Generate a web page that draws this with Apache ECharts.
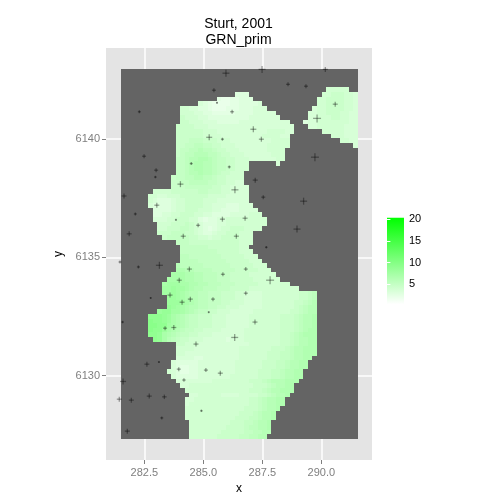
<!DOCTYPE html>
<html><head><meta charset="utf-8">
<style>html,body{margin:0;padding:0;background:#fff}#c{width:500px;height:500px}</style>
<script src="https://cdn.jsdelivr.net/npm/echarts@6/dist/echarts.min.js"></script>
</head><body><div id="c"></div>
<script>
const titleText = 'Sturt, 2001\nGRN_prim';
const xMajor = [282.5, 285, 287.5, 290];
const xMinor = [281.25, 283.75, 286.25, 288.75, 291.25];
const yMajor = [6130, 6135, 6140];
const yMinor = [6127.5, 6132.5, 6137.5, 6142.5];
const legendTicks = [5, 10, 15, 20];
const levelChars = 'abcdefghijklmnopqrs'; // a=1, b=1.5 ... s=10
// [row, firstCol, endCol, levels]
const mainRuns = [
[5,25,28,'eee'],[6,21,29,'dccddeee'],[7,17,31,'fedccccddeeeef'],[8,13,32,'ggffeedcccdddeeefff'],
[9,13,34,'gggffeedddddeeeefffff'],[10,13,35,'hgggffeeeeeeeeefffffff'],[11,13,37,'hhgggfffeeeeefffffffffff'],
[12,12,38,'hhhhgggfffffffffffffffffff'],[13,12,38,'hhhhhhgggfffffffffffggggfff'],[14,12,37,'hhhhhhggggfffffffffggggff'],
[15,12,37,'hhhiiihhhgggfffffffffgggggg'],[16,12,37,'hhiijjiihhgggfffffffggggg'],[17,12,36,'hiijjkjjihhgggffffffgggg'],
[18,12,36,'hijjkkkjjihhgggffffffggg'],[19,12,36,'iijkkllkjiihhgggffffffgg'],[20,12,28,'iijkllkkjiihhggg'],[20,34,35,'f'],
[21,12,28,'iijkllkkjiihhggg'],[22,12,27,'iijkklkkjihhggg'],[23,11,27,'hiijjkkjjihhgggg'],[24,11,27,'hhiijjjjiihhggff'],
[25,11,28,'hhhiiiiiihhggffff'],[26,7,28,'gggghhhhhhiihhhggffff'],[27,6,28,'ggffggghhhhhhggggfffff'],[28,6,28,'gfeeefgghhhhgggffffffff'],
[29,6,29,'feeeefgghhhhggfffeeefff'],[30,7,30,'eeeefgghhhgggffeeeefffff'],[31,7,31,'eeffgghhhggffeeeeffffggg'],
[32,7,32,'fffgghhhggedeeffggggggggg'],[33,8,32,'ggghhhihgfeeeffggggggggg'],[34,8,31,'gghhhiihgfedefgghhhgggg'],
[35,8,29,'hhhiiihhgfeefgghhhggg'],[36,9,29,'hiiiiihhggfgghhhhggg'],[37,12,29,'iiihhhhhhhhhhhggg'],[38,13,28,'iiiiiihhhhhhhgg'],
[39,13,29,'iiiiiiiihhhhhggg'],[40,13,30,'jjiiiiiiihhhhhggg'],[41,13,31,'jjjjiiiiiihhhhhggg'],[42,12,32,'kjjjjjiiiiiihhhhhggg'],
[43,12,33,'llkkjjjjiiiiihhhhhggg'],[44,11,34,'mmmllkkjjjiiihhhhgggggg'],[45,10,35,'mmmmllkkjjjiiihhhhhgggggg'],
[46,9,37,'mnnnmmllkkjjjiiihhhhhggggggg'],[47,9,39,'nnonnmlkkjjjiiihhhhgggggggggg'],
[48,9,43,'nnonmlkkjjiiihhhggffffgggggggghhij'],[49,10,43,'oonmlkkjjiiihhhggffffgggggggghhij'],
[50,10,43,'ooonmlkjjiiihhgggffffggggggghhijk'],[51,10,43,'ponmlkkjjiihhgggfffffggggggghijkk'],
[52,8,43,'oppnnmlkjiihhgggfffffgggggggghhijkk'],[53,6,43,'qqqpomlkjiihhhgggfffffggggggghhhijkkl'],
[54,6,43,'rqqpomlkjiihhhgggfffffggggggghhhijkkl'],[55,6,43,'rrqqnmlkjiihhhgggfffffggggggghhhijkkl'],
[56,6,43,'rqqomlkjiihhggggfffffgggggggghhhijkll'],[57,6,43,'qqpmlkjiihhgggfffffffgggggggghhijkll'],
[58,7,43,'qpmkjihhgggfffffefffgggggggghhijkkl'],[59,12,43,'hhgggfffffffffffggggggghhijkkll'],[60,12,43,'ggggffffffffffggggggghhhijkkll'],
[61,12,43,'ggffffffffffffgggggghhhiijkkll'],[62,12,42,'ffffeeffffffffgggggghhhiijkkll'],[63,11,41,'feeeeeffffffffgggggghhhiijkkll'],
[64,11,41,'feddeeffffffffgggggghhhiijkkll'],[65,10,40,'gfeddeeffffffffggggghhhiijkkll'],[66,11,40,'feeeeefffffffgggggghhhiijkkll'],
[67,12,39,'ffffffffgggggggghhhijkkkll'],[68,13,38,'ffgggggggggggggghhhijkkll'],[69,14,38,'gggggggggggggghhhijkkll'],
[70,15,37,'ffgggggffffgggghhijkkl'],[71,14,36,'ffgggggggggggghhijkkll'],[72,14,36,'fggggggggggggghhijkkll'],
[73,14,35,'ggggggggggggghhhijkkl'],[74,14,34,'gggggggggggghhhijkkl'],[75,14,34,'ggggggggggghhhiijkkl'],
[76,15,33,'ggggggggghhhiijkkl'],[77,15,33,'gggggggghhhhijjkkl'],[78,15,33,'ggggggghhhhhiijjkk'],[79,15,32,'gggggghhhhhiijjkk']
];
const islandRuns = [
[4,45,50,'ggggg'],[5,44,52,'gghhhggf'],[6,43,52,'gghhhhggf'],[7,43,52,'gghhhhggf'],[8,42,52,'fgghhhhggf'],
[9,41,52,'ffgghhhggff'],[10,41,52,'ffggghhggff'],[11,40,52,'effgggggggff'],[12,41,52,'ffggggggfff'],
[13,44,52,'gggggfff'],[14,46,52,'gggfff'],[15,48,52,'ggff'],[16,51,52,'f']
];
const pointX = [285.96,285.45,285.58,286.22,282.29,285.25,285.81,282.49,284.49,286.10,283.00,282.97,284.03,286.34,281.64,
287.49,290.17,288.59,289.35,290.59,289.82,287.12,287.46,289.73,287.20,
283.03,282.12,283.84,284.78,285.81,281.86,284.15,286.40,281.47,282.25,283.14,284.41,285.83,283.98,283.59,284.45,285.41,284.10,282.77,285.23,281.58,283.38,283.75,
287.54,289.25,286.77,288.97,287.67,286.80,287.83,286.80,287.19,
284.69,286.33,282.61,283.12,283.96,285.11,285.72,284.18,281.60,281.44,281.95,282.71,283.35,284.92,283.24,281.78];
const pointY = [6142.78,6142.06,6141.53,6141.15,6141.15,6140.07,6139.99,6139.27,6138.96,6138.82,6138.68,6138.39,6138.09,6137.85,6137.59,
6142.94,6142.94,6142.31,6142.23,6141.47,6140.87,6140.41,6139.99,6139.23,6138.26,
6137.20,6136.83,6136.58,6136.35,6136.61,6135.99,6135.89,6135.89,6134.80,6134.59,6134.66,6134.50,6134.28,6134.03,6133.40,6133.23,6133.23,6133.10,6133.28,6132.68,6132.26,6132.00,6132.03,
6137.54,6137.37,6136.65,6136.19,6135.42,6134.50,6134.03,6133.48,6132.26,
6131.33,6131.61,6130.48,6130.57,6130.27,6130.23,6130.10,6129.81,6129.75,6129.00,6128.96,6129.13,6129.10,6128.51,6128.21,6127.65];
const pointSize = [7,4,2,4,3,6,3,4,3,3,4,2.5,6,7,5,
7,5,4,4,5,8,6,5,8,5,
5,3,2,4,5,5,5,5,3,3,7,5,4,5,5,5,4,5,2,2,2.5,4,5,
4,7,5,7,2.5,4,8,4,5,
5,7,5,2,4,4,5,3.5,6,5,5,5,4.5,2.5,3,5];

// grid frame of the raster
const nCols = 52, nRows = 80;
const x0 = 281.513, cw = 10.04 / nCols;
const yTop = 6142.957, ch = 15.63 / nRows;
const vMin = 0.4, vMax = 20.3;

const grid = [];
for (let r = 0; r < nRows; r++) grid.push(new Array(nCols).fill(null));
mainRuns.concat(islandRuns).forEach(function (run) {
  const r = run[0], s = run[1], e = run[2], lv = run[3];
  for (let c = s; c < e; c++) {
    const ch_ = lv[Math.min(c - s, lv.length - 1)];
    grid[r][c] = 1 + 0.5 * levelChars.indexOf(ch_);
  }
});
const cells = [];
for (let r = 0; r < nRows; r++) for (let c = 0; c < nCols; c++) {
  cells.push([x0 + (c + 0.5) * cw, yTop - (r + 0.5) * ch, grid[r][c]]);
}
const points = pointX.map(function (x, i) { return [x, pointY[i], pointSize[i]]; });

function fillOf(v) {
  if (v == null || isNaN(v)) return '#646464';
  const t = Math.max(0, Math.min(1, (v - vMin) / (vMax - vMin)));
  const k = Math.round(255 * (1 - t));
  return 'rgb(' + k + ',255,' + k + ')';
}
const FONT = '"Liberation Sans", Arial, sans-serif';
const chart = echarts.init(document.getElementById('c'), null, { renderer: 'canvas', width: 500, height: 500 });
const XMIN = 280.877, XMAX = 292.148, YMIN = 6126.43, YMAX = 6143.845;
chart.setOption({
  animation: false,
  backgroundColor: '#fff',
  title: { text: titleText, left: 238.5, top: 16, padding: 0, textAlign: 'center',
    textStyle: { fontFamily: FONT, fontSize: 14, fontWeight: 'normal', color: '#000', lineHeight: 16 } },
  grid: [
    { left: 106, top: 48, width: 266, height: 412, show: true, backgroundColor: '#E4E4E4', borderWidth: 0, outerBoundsMode: 'none' },
    { left: 387, top: 217.7, width: 17, height: 86.6, show: false, outerBoundsMode: 'none' }
  ],
  xAxis: [
    { type: 'value', gridIndex: 0, min: XMIN, max: XMAX, name: 'x', nameLocation: 'middle', nameGap: 22,
      nameTextStyle: { fontFamily: FONT, fontSize: 12, color: '#000' },
      axisLine: { show: false },
      axisTick: { show: true, length: 4, customValues: xMajor, lineStyle: { color: '#7F7F7F', width: 1 } },
      axisLabel: { show: true, customValues: xMajor, margin: 7, color: '#7F7F7F', fontFamily: FONT, fontSize: 11,
        formatter: function (v) { return v.toFixed(1); } },
      splitLine: { show: true, lineStyle: { color: '#fff', width: 1.5 } } },
    { type: 'value', gridIndex: 0, min: XMIN, max: XMAX, z: -1,
      axisLine: { show: false }, axisLabel: { show: false },
      axisTick: { show: false, customValues: xMinor },
      splitLine: { show: true, lineStyle: { color: '#F2F2F2', width: 1 } } },
    { type: 'value', gridIndex: 1, min: 0, max: 1, show: false }
  ],
  yAxis: [
    { type: 'value', gridIndex: 0, min: YMIN, max: YMAX, name: 'y', nameLocation: 'middle', nameGap: 32,
      nameTextStyle: { fontFamily: FONT, fontSize: 12, color: '#000' },
      axisLine: { show: false },
      axisTick: { show: true, length: 4, customValues: yMajor, lineStyle: { color: '#7F7F7F', width: 1 } },
      axisLabel: { show: true, customValues: yMajor, margin: 6, color: '#7F7F7F', fontFamily: FONT, fontSize: 11,
        formatter: function (v) { return String(v); } },
      splitLine: { show: true, lineStyle: { color: '#fff', width: 1.5 } } },
    { type: 'value', gridIndex: 0, min: YMIN, max: YMAX, z: -1, position: 'left',
      axisLine: { show: false }, axisLabel: { show: false },
      axisTick: { show: false, customValues: yMinor },
      splitLine: { show: true, lineStyle: { color: '#F2F2F2', width: 1 } } },
    { type: 'value', gridIndex: 1, min: vMin, max: vMax, position: 'right', z: 5,
      axisLine: { show: false }, splitLine: { show: false },
      axisTick: { show: true, inside: true, length: 3.4, customValues: legendTicks, lineStyle: { color: '#fff', width: 1 } },
      axisLabel: { show: true, customValues: legendTicks, margin: 5, color: '#000', fontFamily: FONT, fontSize: 11 } },
    { type: 'value', gridIndex: 1, min: vMin, max: vMax, position: 'left', z: 5,
      axisLine: { show: false }, splitLine: { show: false }, axisLabel: { show: false },
      axisTick: { show: true, inside: true, length: 3.4, customValues: legendTicks, lineStyle: { color: '#fff', width: 1 } } }
  ],
  series: [
    { type: 'custom', xAxisIndex: 0, yAxisIndex: 0, silent: true, z: 2, data: cells, progressive: 0,
      encode: { x: 0, y: 1 },
      renderItem: function (params, api) {
        const x = api.value(0), y = api.value(1), v = api.value(2);
        const a = api.coord([x - cw / 2, y + ch / 2]);
        const b = api.coord([x + cw / 2, y - ch / 2]);
        const L = Math.round(a[0]), T = Math.round(a[1]), R = Math.round(b[0]), B = Math.round(b[1]);
        return { type: 'rect', shape: { x: L, y: T, width: R - L, height: B - T },
          style: { fill: fillOf(v) } };
      } },
    { type: 'custom', xAxisIndex: 0, yAxisIndex: 0, silent: true, z: 3, data: points, progressive: 0,
      encode: { x: 0, y: 1 },
      renderItem: function (params, api) {
        const p = api.coord([api.value(0), api.value(1)]);
        const h = api.value(2) / 2;
        const st = { stroke: 'rgba(0,0,0,0.36)', lineWidth: 1.3, fill: null };
        return { type: 'group', children: [
          { type: 'line', shape: { x1: p[0] - h, y1: p[1], x2: p[0] + h, y2: p[1] }, style: st },
          { type: 'line', shape: { x1: p[0], y1: p[1] - h, x2: p[0], y2: p[1] + h }, style: st }
        ] };
      } },
    { type: 'custom', xAxisIndex: 2, yAxisIndex: 2, silent: true, z: 2, data: [[0, vMin, 1, vMax]],
      encode: { x: [0, 2], y: [1, 3] },
      renderItem: function (params, api) {
        const a = api.coord([api.value(0), api.value(3)]);
        const b = api.coord([api.value(2), api.value(1)]);
        return { type: 'rect', shape: { x: a[0], y: a[1], width: b[0] - a[0], height: b[1] - a[1] },
          style: { fill: new echarts.graphic.LinearGradient(0, 1, 0, 0, [
            { offset: 0, color: '#ffffff' }, { offset: 1, color: '#00ff00' }]) } };
      } }
  ]
});
</script></body></html>
